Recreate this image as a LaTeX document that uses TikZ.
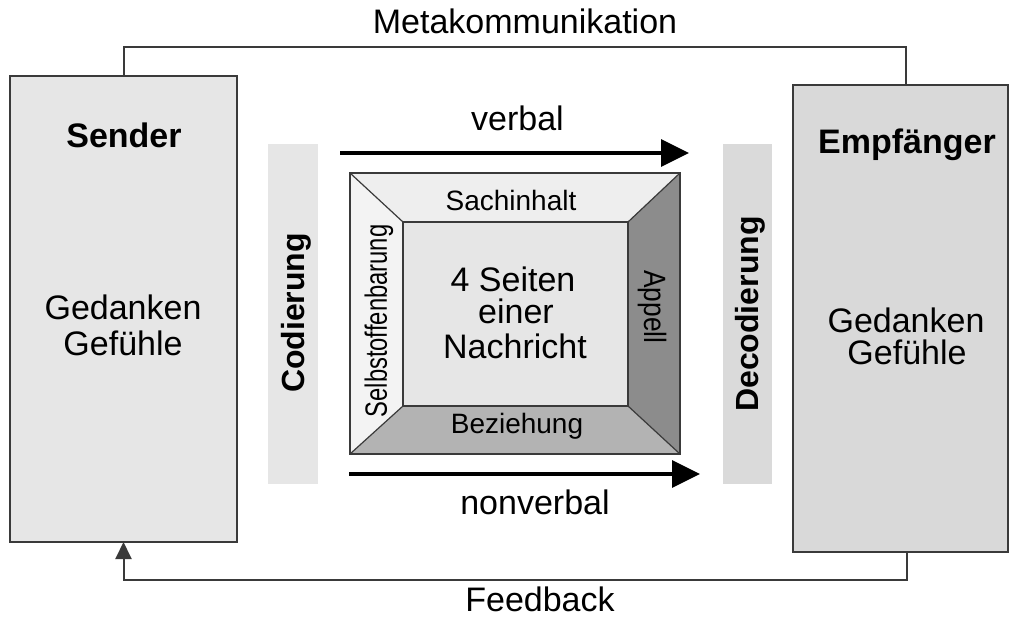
\documentclass[tikz,border=0pt]{standalone}
\usepackage{fontspec}
\setmainfont{Liberation Sans}
\usepackage{graphicx}
\usetikzlibrary{arrows.meta}
\definecolor{sendfill}{HTML}{E6E6E6}
\definecolor{empffill}{HTML}{D9D9D9}
\definecolor{codfill}{HTML}{E6E6E6}
\definecolor{decfill}{HTML}{DADADA}
\definecolor{topfill}{HTML}{EEEEEE}
\definecolor{leftfill}{HTML}{F3F3F3}
\definecolor{innerfill}{HTML}{E6E6E6}
\definecolor{botfill}{HTML}{B3B3B3}
\definecolor{rightfill}{HTML}{8C8C8C}
\definecolor{edge}{HTML}{3A3A3A}
\tikzset{
  bigbox/.style={draw=edge, line width=0.75pt, rectangle, inner sep=0pt, outer sep=0pt},
  bar/.style={rectangle, inner sep=0pt, outer sep=0pt},
  plain/.style={rectangle, inner sep=0pt, outer sep=0pt},
  txt/.style={inner sep=0pt, anchor=base, font=\fontsize{17}{17}\selectfont},
  smalltxt/.style={inner sep=0pt, anchor=base, font=\fontsize{14}{14}\selectfont},
  boldtxt/.style={inner sep=0pt, anchor=base, font=\fontsize{17}{17}\selectfont\bfseries},
  vtxt/.style={inner sep=0pt, anchor=center, font=\fontsize{16}{16}\selectfont\bfseries},
  thinline/.style={draw=edge, line width=1pt},
  flow/.style={draw=black, line width=1.6pt, -{Triangle[length=14pt,width=13.5pt]}},
  sqedge/.style={draw=edge, line width=0.6pt},
}
\begin{document}
\begin{tikzpicture}[x=0.5pt,y=-0.5pt]
\useasboundingbox (0,0) rectangle (1009,617);

% main boxes
\node[bigbox, fill=sendfill, minimum width=113.5pt, minimum height=233pt] (sender) at (123.5,309) {};
\node[bigbox, fill=empffill, minimum width=107.5pt, minimum height=233.5pt] (empf) at (900.5,318.5) {};

% coding bars
\node[bar, fill=codfill, minimum width=25pt, minimum height=170pt] (codbar) at (293,314) {};
\node[bar, fill=decfill, minimum width=24.5pt, minimum height=170pt] (decbar) at (747.5,314) {};

% four-sides square
\node[plain, minimum width=165pt, minimum height=140.5pt] (sq) at (515,313.5) {};
\node[plain, minimum width=112.5pt, minimum height=92pt] (msg) at (515.5,314) {};
\fill[topfill] (sq.north west) -- (sq.north east) -- (msg.north east) -- (msg.north west) -- cycle;
\fill[leftfill] (sq.north west) -- (msg.north west) -- (msg.south west) -- (sq.south west) -- cycle;
\fill[botfill] (sq.south west) -- (msg.south west) -- (msg.south east) -- (sq.south east) -- cycle;
\fill[rightfill] (sq.north east) -- (sq.south east) -- (msg.south east) -- (msg.north east) -- cycle;
\fill[innerfill] (msg.north west) rectangle (msg.south east);
\draw[sqedge] (msg.north west) rectangle (msg.south east);
\draw[sqedge] (sq.north west) -- (msg.north west);
\draw[sqedge] (sq.north east) -- (msg.north east);
\draw[sqedge] (sq.south west) -- (msg.south west);
\draw[sqedge] (sq.south east) -- (msg.south east);
\draw[draw=edge, line width=0.9pt] (sq.north west) rectangle (sq.south east);

% verbal / nonverbal arrows
\coordinate (v1) at (340,153);
\coordinate (v2) at (689,153);
\coordinate (n1) at (349,474);
\coordinate (n2) at (700,474);
\draw[flow] (v1) -- (v2);
\draw[flow] (n1) -- (n2);

% meta communication and feedback
\coordinate (mr) at (906,47);
\coordinate (fb) at (907,580);
\draw[thinline] (sender.north) |- (mr) -- (mr |- empf.north);
\draw[thinline, -{Triangle[length=8.5pt,width=8pt]}] (empf.south -| fb) -- (fb) -| (sender.south);

% labels
\node[txt] (metalbl) at (525,33) {Metakommunikation};
\node[txt] (fblbl) at (540,611) {Feedback};
\node[boldtxt] (senderlbl) at (124,147) {Sender};
\node[txt] (sg1) at (123,319) {Gedanken};
\node[txt] (sg2) at (123,355) {Gefühle};
\node[boldtxt] (empflbl) at (907,153) {Empfänger};
\node[txt] (eg1) at (906,332) {Gedanken};
\node[txt] (eg2) at (907,364) {Gefühle};
\node[txt] (verballbl) at (517.5,130) {verbal};
\node[txt] (nonverballbl) at (535,514) {nonverbal};
\node[vtxt, rotate=90] (codlbl) at (296,313) {Codierung};
\node[vtxt, rotate=90] (declbl) at (750,314) {Decodierung};
\node[smalltxt] (sachlbl) at (511,210) {Sachinhalt};
\node[smalltxt] (bezlbl) at (517,433) {Beziehung};
\node[inner sep=0pt, rotate=90, font=\fontsize{14}{14}\selectfont] (selbstlbl) at (379,321) {\scalebox{0.85}[1.1]{Selbstoffenbarung}};
\node[inner sep=0pt, rotate=-90, font=\fontsize{14}{14}\selectfont] (appelllbl) at (652,307) {\scalebox{0.94}[1.1]{Appell}};
\node[txt] (m1) at (513,291) {4 Seiten};
\node[txt] (m2) at (516,323) {einer};
\node[txt] (m3) at (515,358) {Nachricht};
\end{tikzpicture}
\end{document}
